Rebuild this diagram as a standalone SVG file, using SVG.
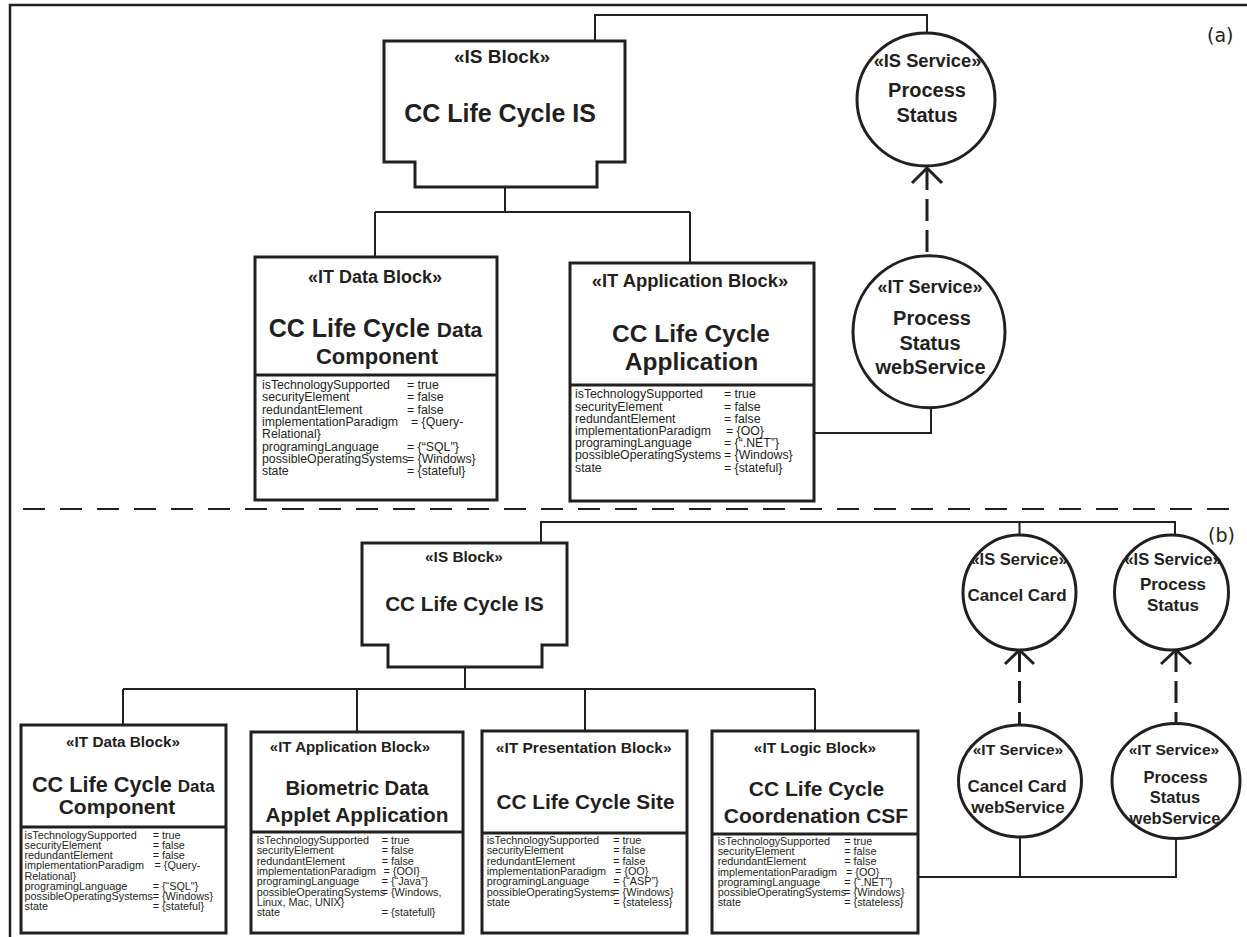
<svg xmlns="http://www.w3.org/2000/svg" width="1247" height="937" viewBox="0 0 1247 937">
<style>
.frame{fill:none;stroke:#231f20;stroke-width:2.5}
.blk{fill:#fff;stroke:#231f20;stroke-width:3}
.div{fill:none;stroke:#231f20;stroke-width:3}
.ln{fill:none;stroke:#231f20;stroke-width:2}
.dep{fill:none;stroke:#231f20;stroke-width:3;stroke-dasharray:22 9}
.head{fill:none;stroke:#231f20;stroke-width:3}
.sep{fill:none;stroke:#231f20;stroke-width:2;stroke-dasharray:22 15}
.circ{fill:#fff;stroke:#231f20;stroke-width:3}
.b{font-family:"Liberation Sans",Arial,Helvetica,sans-serif;font-weight:bold;text-anchor:middle;fill:#231f20}
.at{font-family:"Liberation Sans",Arial,Helvetica,sans-serif;fill:#231f20}
.a1{font-size:12.3px}
.a2{font-size:10.8px}
.lbl{font-family:"DejaVu Sans",Verdana,sans-serif;font-size:19px;fill:#231f20}
</style>

<path class="frame" d="M10,937 V5 H1247"/>
<path class="sep" d="M23,509 H1240"/>
<text class="lbl" x="1207" y="42">(a)</text>
<text class="lbl" x="1208" y="542">(b)</text>

<g id="connectors">
  <path class="ln" d="M595,41 V15 H927 V33"/>
  <path class="ln" d="M505,187 V212 M375,212 H690 M375,212 V257 M690,212 V263"/>
  <path class="ln" d="M814,433 H931 V407"/>
  <path class="dep" d="M927,168 V256"/>
  <path class="head" d="M912,183 L927,168 L942,183"/>
  <path class="ln" d="M541,543 V522 H1175 V535 M1019.5,522 V535"/>
  <path class="ln" d="M465,667 V689 M123,689 H815 M123,689 V725 M357,689 V732 M585,689 V731 M815,689 V731"/>
  <path class="ln" d="M918,877 H1176 V838 M1020,877 V837"/>
  <path class="dep" d="M1019.5,650 V725"/>
  <path class="head" d="M1005,664 L1019.5,650 L1034,664"/>
  <path class="dep" d="M1176,650 V723"/>
  <path class="head" d="M1161,664 L1176,650 L1191,664"/>
</g>

<g id="a-is-block">
  <path class="blk" d="M384,41 H625 V162 H597 V187 H415 V162 H384 Z"/>
  <text class="b" x="502" y="63" font-size="19">«IS Block»</text>
  <text class="b" x="500" y="122" font-size="25">CC Life Cycle IS</text>
</g>

<g id="a-is-service">
  <ellipse class="circ" cx="926" cy="99.5" rx="69" ry="66.5"/>
  <text class="b" x="927.5" y="67" font-size="18.3">«IS Service»</text>
  <text class="b" x="927" y="97" font-size="20">Process</text>
  <text class="b" x="927" y="122" font-size="20">Status</text>
</g>

<g id="a-it-service">
  <circle class="circ" cx="929" cy="331.7" r="76"/>
  <text class="b" x="930" y="293" font-size="18">«IT Service»</text>
  <text class="b" x="932" y="325" font-size="20">Process</text>
  <text class="b" x="930" y="349.5" font-size="20">Status</text>
  <text class="b" x="930.5" y="374" font-size="20">webService</text>
</g>

<g id="a-data-block">
  <rect class="blk" x="255" y="257" width="242" height="243"/>
  <path class="div" d="M255,375 H497"/>
  <text class="b" x="375" y="283" font-size="18">«IT Data Block»</text>
  <text class="b" x="375.5" y="337"><tspan font-size="25">CC Life Cycle </tspan><tspan font-size="21">Data</tspan></text>
  <text class="b" x="377" y="364" font-size="22">Component</text>
  <text class="at a1">
    <tspan x="262" y="389">isTechnologySupported</tspan><tspan x="407" y="389">= true</tspan>
    <tspan x="262" y="401.3">securityElement</tspan><tspan x="407" y="401.3">= false</tspan>
    <tspan x="262" y="413.6">redundantElement</tspan><tspan x="407" y="413.6">= false</tspan>
    <tspan x="262" y="425.9">implementationParadigm</tspan><tspan x="411" y="425.9">= {Query-</tspan>
    <tspan x="262" y="438.2">Relational}</tspan>
    <tspan x="262" y="450.5">programingLanguage</tspan><tspan x="407" y="450.5">= {“SQL"}</tspan>
    <tspan x="262" y="462.8">possibleOperatingSystems</tspan><tspan x="407" y="462.8">= {Windows}</tspan>
    <tspan x="262" y="475.1">state</tspan><tspan x="407" y="475.1">= {stateful}</tspan>
  </text>
</g>

<g id="a-app-block">
  <rect class="blk" x="570" y="263" width="244" height="238"/>
  <path class="div" d="M570,385 H814"/>
  <text class="b" x="690" y="287" font-size="18.4">«IT Application Block»</text>
  <text class="b" x="691" y="342" font-size="24.5">CC Life Cycle</text>
  <text class="b" x="691.5" y="370" font-size="24.5">Application</text>
  <text class="at a1">
    <tspan x="575" y="398.3">isTechnologySupported</tspan><tspan x="724" y="398.3">= true</tspan>
    <tspan x="575" y="410.5">securityElement</tspan><tspan x="724" y="410.5">= false</tspan>
    <tspan x="575" y="422.7">redundantElement</tspan><tspan x="724" y="422.7">= false</tspan>
    <tspan x="575" y="434.9">implementationParadigm</tspan><tspan x="726" y="434.9">= {OO}</tspan>
    <tspan x="575" y="447.1">programingLanguage</tspan><tspan x="724" y="447.1">= {“.NET”}</tspan>
    <tspan x="575" y="459.3">possibleOperatingSystems</tspan><tspan x="724" y="459.3">= {Windows}</tspan>
    <tspan x="575" y="471.5">state</tspan><tspan x="724" y="471.5">= {stateful}</tspan>
  </text>
</g>

<g id="b-is-block">
  <path class="blk" d="M362,543 H567 V645 H542 V667 H388 V645 H362 Z"/>
  <text class="b" x="464" y="562" font-size="15.4">«IS Block»</text>
  <text class="b" x="464.5" y="611" font-size="20.7">CC Life Cycle IS</text>
</g>

<g id="b-is-service-cancel">
  <ellipse class="circ" cx="1019.5" cy="592.5" rx="56.5" ry="57.5"/>
  <text class="b" x="1019" y="565" font-size="16.5">«IS Service»</text>
  <text class="b" x="1017" y="601" font-size="17">Cancel Card</text>
</g>

<g id="b-is-service-process">
  <ellipse class="circ" cx="1171.5" cy="592.5" rx="57" ry="57.5"/>
  <text class="b" x="1173" y="565" font-size="16.5">«IS Service»</text>
  <text class="b" x="1173" y="590" font-size="17">Process</text>
  <text class="b" x="1173" y="611" font-size="17">Status</text>
</g>

<g id="b-it-service-cancel">
  <ellipse class="circ" cx="1020" cy="781" rx="61.5" ry="56"/>
  <text class="b" x="1018" y="755" font-size="15.5">«IT Service»</text>
  <text class="b" x="1017" y="792" font-size="17">Cancel Card</text>
  <text class="b" x="1018" y="813" font-size="17">webService</text>
</g>

<g id="b-it-service-process">
  <ellipse class="circ" cx="1176" cy="781" rx="64" ry="57.5"/>
  <text class="b" x="1174" y="755" font-size="15.5">«IT Service»</text>
  <text class="b" x="1175.5" y="783.3" font-size="16.5">Process</text>
  <text class="b" x="1175" y="803" font-size="16.5">Status</text>
  <text class="b" x="1175" y="824.3" font-size="16.5">webService</text>
</g>

<g id="b-data-block">
  <rect class="blk" x="21" y="725" width="205" height="208"/>
  <path class="div" d="M21,827 H226"/>
  <text class="b" x="123" y="747" font-size="15.3">«IT Data Block»</text>
  <text class="b" x="123.3" y="792"><tspan font-size="21.7">CC Life Cycle </tspan><tspan font-size="17">Data</tspan></text>
  <text class="b" x="117" y="814" font-size="21">Component</text>
  <text class="at a2">
    <tspan x="24.5" y="838.5">isTechnologySupported</tspan><tspan x="152.7" y="838.5">= true</tspan>
    <tspan x="24.5" y="848.75">securityElement</tspan><tspan x="152.7" y="848.75">= false</tspan>
    <tspan x="24.5" y="859">redundantElement</tspan><tspan x="152.7" y="859">= false</tspan>
    <tspan x="24.5" y="869.25">implementationParadigm</tspan><tspan x="154.5" y="869.25">= {Query-</tspan>
    <tspan x="24.5" y="879.5">Relational}</tspan>
    <tspan x="24.5" y="889.75">programingLanguage</tspan><tspan x="152.7" y="889.75">= {“SQL"}</tspan>
    <tspan x="24.5" y="900">possibleOperatingSystems</tspan><tspan x="152.7" y="900">= {Windows}</tspan>
    <tspan x="24.5" y="910.25">state</tspan><tspan x="152.7" y="910.25">= {stateful}</tspan>
  </text>
</g>

<g id="b-app-block">
  <rect class="blk" x="251" y="732" width="212" height="201"/>
  <path class="div" d="M251,832 H463"/>
  <text class="b" x="350" y="752" font-size="15">«IT Application Block»</text>
  <text class="b" x="357" y="795" font-size="20.3">Biometric Data</text>
  <text class="b" x="357" y="822" font-size="20.8">Applet Application</text>
  <text class="at a2">
    <tspan x="256.7" y="844">isTechnologySupported</tspan><tspan x="381.7" y="844">= true</tspan>
    <tspan x="256.7" y="854.3">securityElement</tspan><tspan x="381.7" y="854.3">= false</tspan>
    <tspan x="256.7" y="864.6">redundantElement</tspan><tspan x="381.7" y="864.6">= false</tspan>
    <tspan x="256.7" y="874.9">implementationParadigm</tspan><tspan x="383.5" y="874.9">= {OOI}</tspan>
    <tspan x="256.7" y="885.2">programingLanguage</tspan><tspan x="381.7" y="885.2">= {“Java”}</tspan>
    <tspan x="256.7" y="895.5">possibleOperatingSystems</tspan><tspan x="381.7" y="895.5">= {Windows,</tspan>
    <tspan x="256.7" y="905.8">Linux, Mac, UNIX}</tspan>
    <tspan x="256.7" y="916.1">state</tspan><tspan x="381.7" y="916.1">= {statefull}</tspan>
  </text>
</g>

<g id="b-presentation-block">
  <rect class="blk" x="482" y="731" width="205" height="202"/>
  <path class="div" d="M482,833 H687"/>
  <text class="b" x="583.7" y="753" font-size="15.5">«IT Presentation Block»</text>
  <text class="b" x="585.5" y="809" font-size="20.8">CC Life Cycle Site</text>
  <text class="at a2">
    <tspan x="486.7" y="844">isTechnologySupported</tspan><tspan x="613.3" y="844">= true</tspan>
    <tspan x="486.7" y="854.3">securityElement</tspan><tspan x="613.3" y="854.3">= false</tspan>
    <tspan x="486.7" y="864.6">redundantElement</tspan><tspan x="613.3" y="864.6">= false</tspan>
    <tspan x="486.7" y="874.9">implementationParadigm</tspan><tspan x="615" y="874.9">= {OO}</tspan>
    <tspan x="486.7" y="885.2">programingLanguage</tspan><tspan x="613.3" y="885.2">= {“ASP”}</tspan>
    <tspan x="486.7" y="895.5">possibleOperatingSystems</tspan><tspan x="613.3" y="895.5">= {Windows}</tspan>
    <tspan x="486.7" y="905.8">state</tspan><tspan x="613.3" y="905.8">= {stateless}</tspan>
  </text>
</g>

<g id="b-logic-block">
  <rect class="blk" x="712" y="731" width="206" height="202"/>
  <path class="div" d="M712,834 H918"/>
  <text class="b" x="815" y="753" font-size="15.4">«IT Logic Block»</text>
  <text class="b" x="816.5" y="796" font-size="21">CC Life Cycle</text>
  <text class="b" x="816" y="823" font-size="21">Coordenation CSF</text>
  <text class="at a2">
    <tspan x="717.7" y="845">isTechnologySupported</tspan><tspan x="844.3" y="845">= true</tspan>
    <tspan x="717.7" y="855.2">securityElement</tspan><tspan x="844.3" y="855.2">= false</tspan>
    <tspan x="717.7" y="865.4">redundantElement</tspan><tspan x="844.3" y="865.4">= false</tspan>
    <tspan x="717.7" y="875.6">implementationParadigm</tspan><tspan x="846" y="875.6">= {OO}</tspan>
    <tspan x="717.7" y="885.8">programingLanguage</tspan><tspan x="844.3" y="885.8">= {“.NET”}</tspan>
    <tspan x="717.7" y="896">possibleOperatingSystems</tspan><tspan x="844.3" y="896">= {Windows}</tspan>
    <tspan x="717.7" y="906.2">state</tspan><tspan x="844.3" y="906.2">= {stateless}</tspan>
  </text>
</g>
</svg>
